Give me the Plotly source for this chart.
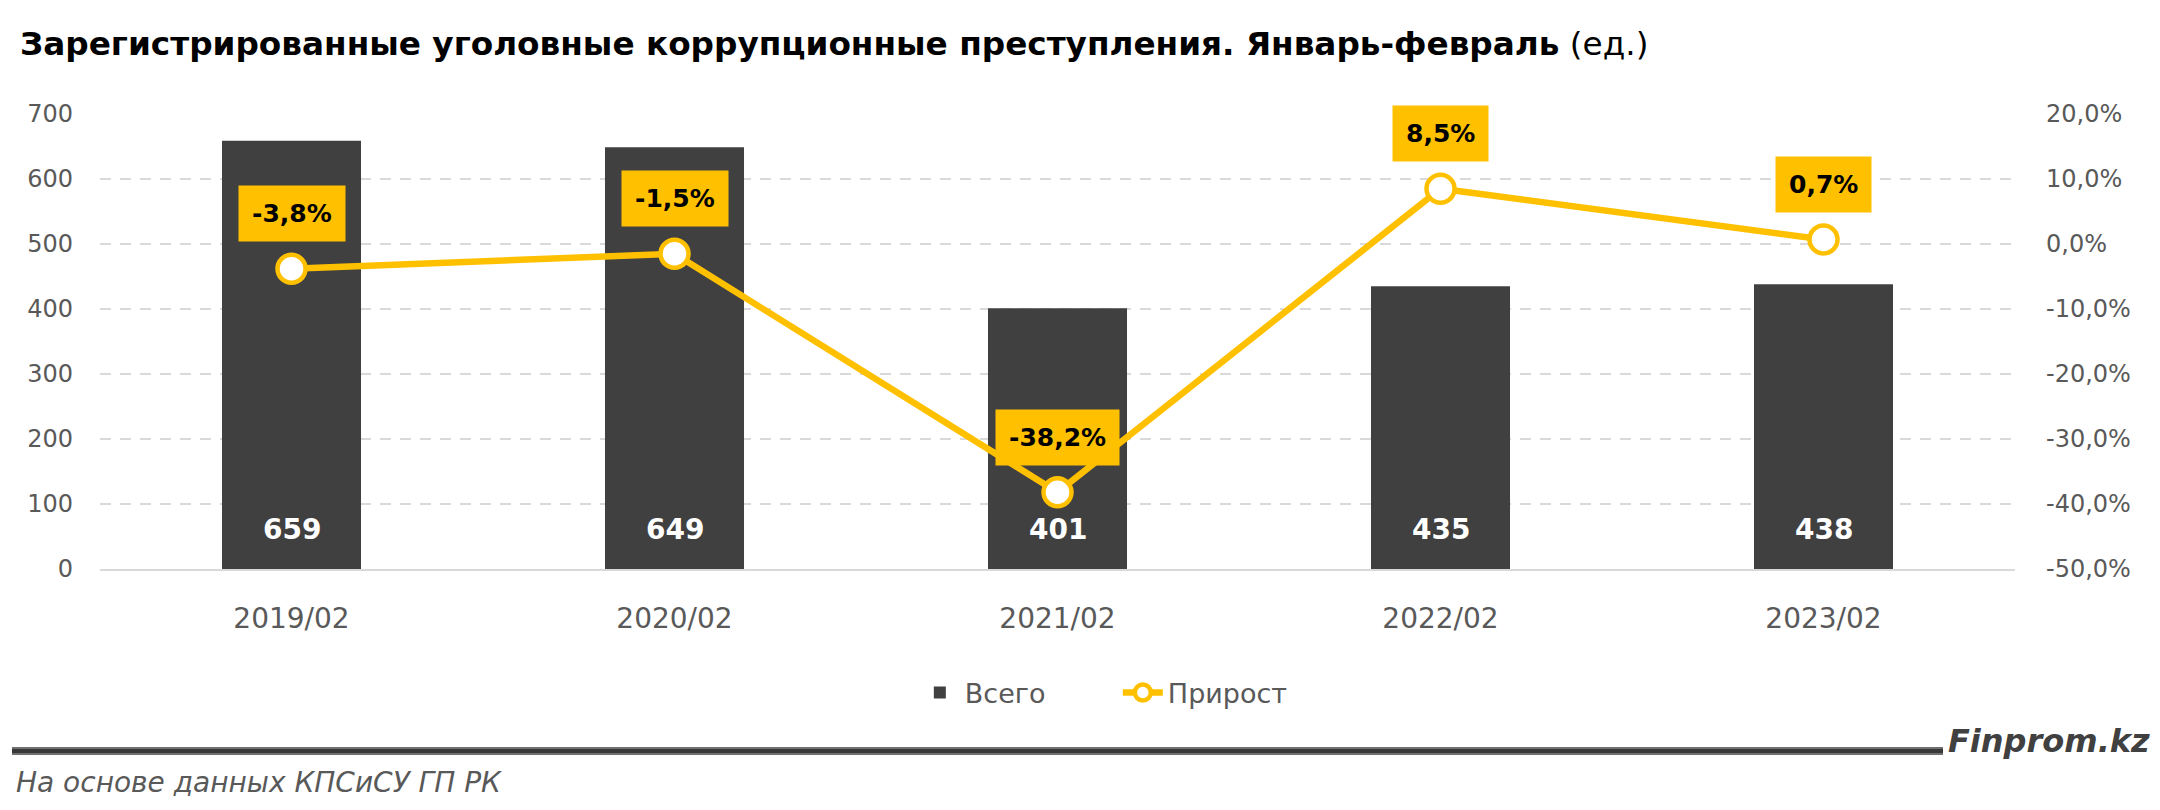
import plotly.graph_objects as go

# ---- data ----
categories = ["2019/02", "2020/02", "2021/02", "2022/02", "2023/02"]
totals = [659, 649, 401, 435, 438]
growth = [-3.8, -1.5, -38.2, 8.5, 0.7]
growth_labels = ["-3,8%", "-1,5%", "-38,2%", "8,5%", "0,7%"]
left_ticks = [0, 100, 200, 300, 400, 500, 600, 700]
right_ticks = [-50, -40, -30, -20, -10, 0, 10, 20]
right_tick_labels = ["-50,0%", "-40,0%", "-30,0%", "-20,0%", "-10,0%", "0,0%", "10,0%", "20,0%"]

W, H = 2160, 810
L, R, T, B = 100, 145, 114, 241
PW, PH = W - L - R, H - T - B

def px2x(px):
    return (px - L) / PW

def py2y(py):
    return (H - B - py) / PH

FONT = "DejaVu Sans"
YEL = "#FFC000"
DARK = "#404040"
GREY = "#595959"

fig = go.Figure()
fig.add_trace(go.Bar(
    x=categories, y=totals, name="Всего", marker=dict(color=DARK, line=dict(width=0)),
    yaxis="y", hoverinfo="skip"))
fig.add_trace(go.Scatter(
    x=categories, y=growth, name="Прирост", yaxis="y2", mode="lines+markers",
    line=dict(color=YEL, width=6.5),
    marker=dict(symbol="circle", size=28, color="white", line=dict(color=YEL, width=4.5)),
    hoverinfo="skip"))

# value labels at bar bottoms
for c, v in zip(categories, totals):
    fig.add_annotation(x=c, y=0, xref="x", yref="y", text=f"<b>{v}</b>", showarrow=False,
                       yanchor="bottom", yshift=21, font=dict(family=FONT, size=28, color="white"))

# growth labels in yellow boxes
for c, g, lab in zip(categories, growth, growth_labels):
    fig.add_annotation(x=c, y=g, xref="x", yref="y2", text=f"<b>{lab}</b>", showarrow=False,
                       yanchor="middle", yshift=55, bgcolor=YEL, borderpad=13,
                       font=dict(family=FONT, size=25, color="black"))

# footer
fig.add_shape(type="line", xref="paper", yref="paper", x0=px2x(12), x1=px2x(1943),
              y0=py2y(751), y1=py2y(751), line=dict(color="#707070", width=8))
fig.add_shape(type="line", xref="paper", yref="paper", x0=px2x(12), x1=px2x(1943),
              y0=py2y(751), y1=py2y(751), line=dict(color="#383838", width=4))
fig.add_annotation(xref="paper", yref="paper", x=px2x(2152), y=py2y(741), xanchor="right",
                   yanchor="middle", showarrow=False, text="<b><i>Finprom.kz</i></b>",
                   font=dict(family=FONT, size=32, color=DARK))
fig.add_annotation(xref="paper", yref="paper", x=px2x(14), y=py2y(782), xanchor="left",
                   yanchor="middle", showarrow=False, text="<i>На основе данных КПСиСУ ГП РК</i>",
                   font=dict(family=FONT, size=28, color=GREY))

fig.update_layout(
    width=W, height=H,
    margin=dict(l=L, r=R, t=T, b=B, pad=0),
    paper_bgcolor="white", plot_bgcolor="white",
    font=dict(family=FONT, color=GREY, size=24),
    title=dict(text="<b>Зарегистрированные уголовные коррупционные преступления. Январь-февраль</b> (ед.)",
               xref="container", yref="container", x=20 / W, xanchor="left",
               y=1 - 44 / H, yanchor="middle", font=dict(family=FONT, size=32.7, color="black")),
    bargap=0.637,
    showlegend=True,
    legend=dict(orientation="h", x=0.5315, xanchor="center", y=py2y(693), yanchor="middle",
                font=dict(family=FONT, size=27, color=GREY), itemwidth=40,
                entrywidth=148, entrywidthmode="pixels", traceorder="normal"),
    xaxis=dict(showline=True, linecolor="#D9D9D9", linewidth=2, ticks="", showgrid=False,
               tickfont=dict(family=FONT, size=28, color=GREY), ticklabelstandoff=23),
    yaxis=dict(range=[0, 700], tickvals=left_ticks, showgrid=True, gridcolor="#D9D9D9",
               griddash="11px,9px", gridwidth=1.5, zeroline=False, ticks="",
               tickfont=dict(family=FONT, size=24, color=GREY), ticklabelstandoff=26),
    yaxis2=dict(range=[-50, 20], tickvals=right_ticks, ticktext=right_tick_labels, overlaying="y",
                side="right", showgrid=False, zeroline=False, ticks="",
                tickfont=dict(family=FONT, size=24, color=GREY), ticklabelstandoff=30),
)

fig.write_html("out.html")
